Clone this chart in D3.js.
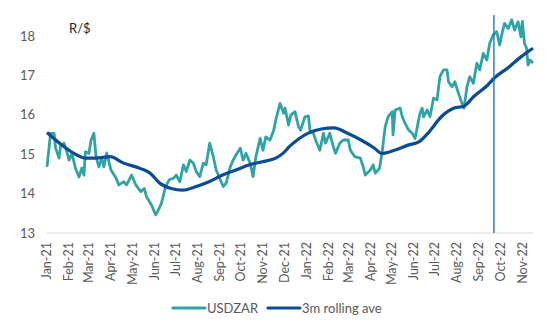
<!DOCTYPE html>
<html><head><meta charset="utf-8">
<script src="https://cdn.jsdelivr.net/npm/d3@7"></script>
<style>
html,body{margin:0;padding:0;background:#fff;}
svg{display:block;}
text{font-family:Lato,"Open Sans",sans-serif;}
</style></head>
<body>
<svg id="chart" width="550" height="330"></svg>
<script>
const usdDates = ["2021-01-01","2021-01-06","2021-01-11","2021-01-13","2021-01-18","2021-01-20","2021-01-25","2021-01-29","2021-02-01","2021-02-05","2021-02-10","2021-02-15","2021-02-19","2021-02-22","2021-02-24","2021-03-01","2021-03-04","2021-03-08","2021-03-11","2021-03-15","2021-03-19","2021-03-22","2021-03-26","2021-04-01","2021-04-08","2021-04-12","2021-04-19","2021-04-23","2021-04-30","2021-05-06","2021-05-13","2021-05-18","2021-05-21","2021-05-28","2021-06-03","2021-06-08","2021-06-11","2021-06-17","2021-06-22","2021-06-28","2021-07-02","2021-07-07","2021-07-12","2021-07-16","2021-07-21","2021-07-26","2021-07-30","2021-08-04","2021-08-09","2021-08-13","2021-08-18","2021-08-23","2021-08-27","2021-09-02","2021-09-06","2021-09-10","2021-09-16","2021-09-20","2021-09-24","2021-09-30","2021-10-04","2021-10-08","2021-10-14","2021-10-18","2021-10-22","2021-10-28","2021-11-01","2021-11-05","2021-11-11","2021-11-16","2021-11-19","2021-11-25","2021-11-30","2021-12-02","2021-12-07","2021-12-10","2021-12-16","2021-12-21","2021-12-24","2021-12-30","2022-01-04","2022-01-06","2022-01-11","2022-01-14","2022-01-20","2022-01-25","2022-01-28","2022-02-03","2022-02-08","2022-02-11","2022-02-17","2022-02-22","2022-03-01","2022-03-04","2022-03-10","2022-03-18","2022-03-22","2022-03-25","2022-04-01","2022-04-05","2022-04-08","2022-04-14","2022-04-18","2022-04-22","2022-04-26","2022-05-02","2022-05-03","2022-05-06","2022-05-13","2022-05-16","2022-05-20","2022-05-25","2022-05-30","2022-06-03","2022-06-08","2022-06-10","2022-06-13","2022-06-15","2022-06-20","2022-06-24","2022-06-29","2022-07-04","2022-07-08","2022-07-13","2022-07-18","2022-07-20","2022-07-25","2022-07-29","2022-08-03","2022-08-08","2022-08-11","2022-08-15","2022-08-19","2022-08-24","2022-08-29","2022-09-02","2022-09-07","2022-09-12","2022-09-16","2022-09-21","2022-09-26","2022-09-30","2022-10-04","2022-10-07","2022-10-12","2022-10-17","2022-10-21","2022-10-26","2022-10-30","2022-11-01","2022-11-04","2022-11-07","2022-11-09","2022-11-12","2022-11-16"];
const usdValues = [14.68,15.53,15.53,15.16,14.90,15.20,15.28,15.05,14.85,15.02,14.65,14.42,14.65,14.47,15.06,15.02,15.36,15.53,14.94,14.68,14.90,14.68,15.03,14.60,14.40,14.22,14.30,14.22,14.47,14.22,14.05,14.13,13.92,13.71,13.46,13.63,13.75,14.18,14.35,14.39,14.47,14.30,14.73,14.56,14.85,14.77,14.56,14.43,14.77,14.73,15.28,14.94,14.60,14.35,14.18,14.26,14.68,14.85,14.98,15.15,14.85,15.02,14.77,14.43,14.94,15.40,15.10,15.44,15.36,15.61,15.87,16.29,16.04,16.17,15.74,15.99,16.08,15.70,15.61,15.95,15.97,15.61,15.53,15.36,15.10,15.53,15.28,15.53,15.19,15.02,15.28,15.36,15.36,15.10,14.94,14.90,14.68,14.47,14.60,14.73,14.52,14.64,15.10,15.70,15.95,16.08,15.49,16.12,16.17,15.95,15.78,15.61,15.53,15.40,15.87,16.04,16.17,15.95,16.12,15.95,16.42,16.38,16.97,17.14,17.14,16.84,16.71,16.84,16.55,16.29,16.17,16.71,16.97,16.80,17.31,17.14,17.56,17.39,17.81,18.03,18.11,17.77,18.11,18.32,18.19,18.41,18.15,18.36,17.98,18.37,17.81,17.69,17.26,17.39,17.31];

const aveDates = ["2021-01-01","2021-01-25","2021-02-12","2021-02-23","2021-03-10","2021-03-31","2021-04-18","2021-05-12","2021-05-26","2021-06-09","2021-06-25","2021-07-11","2021-07-30","2021-08-17","2021-09-05","2021-09-24","2021-10-13","2021-10-31","2021-11-19","2021-11-29","2021-12-08","2021-12-22","2022-01-03","2022-01-22","2022-02-09","2022-02-28","2022-03-19","2022-04-07","2022-04-17","2022-05-05","2022-05-24","2022-06-09","2022-06-21","2022-07-10","2022-07-28","2022-08-11","2022-08-25","2022-09-13","2022-09-23","2022-10-11","2022-10-30","2022-11-16"];
const aveValues = [15.55,15.19,14.98,14.90,14.90,14.94,14.78,14.64,14.52,14.26,14.13,14.09,14.18,14.30,14.47,14.60,14.73,14.81,14.90,15.02,15.19,15.40,15.53,15.64,15.67,15.53,15.36,15.15,15.02,15.10,15.23,15.32,15.53,15.95,16.17,16.22,16.47,16.75,16.94,17.18,17.47,17.69];

const yTicks = [13,14,15,16,17,18];
const seriesNames = ["USDZAR","3m rolling ave"];
const markerDate = "2022-09-22";
const unitLabel = "R/$";

const parse = d3.timeParse("%Y-%m-%d");
const usd = usdDates.map((d,i)=>({date:parse(d), v:usdValues[i]}));
const ave = aveDates.map((d,i)=>({date:parse(d), v:aveValues[i]}));

const svg = d3.select("#chart");
const x = d3.scaleTime().domain([parse("2021-01-01"), parse("2022-11-16")]).range([47,533]);
const y = d3.scaleLinear().domain([13,18.5]).range([233,16.3]);

// y labels
svg.append("g").selectAll("text").data(yTicks).join("text")
  .attr("x",35).attr("y",d=>y(d)).attr("dy","0.35em")
  .attr("text-anchor","end").attr("font-size",13).attr("fill","#595959")
  .text(d=>d);

// baseline axis
svg.append("line").attr("x1",x.range()[0]).attr("x2",x.range()[1])
  .attr("y1",y(13)).attr("y2",y(13)).attr("stroke","#d9d9d9").attr("stroke-width",1);

// x labels
const months = d3.timeMonth.range(parse("2021-01-01"), parse("2022-11-16"));
const fmt = d3.timeFormat("%b-%y");
svg.append("g").selectAll("text").data(months).join("text")
  .attr("transform",d=>`translate(${x(d)},${y(13)+9}) rotate(-90)`)
  .attr("dy","0.35em").attr("text-anchor","end")
  .attr("font-size",12.5).attr("fill","#595959")
  .text(d=>fmt(d));

// unit label
svg.append("text").attr("x",69).attr("y",33).attr("font-size",13).attr("fill","#262626").text(unitLabel);

// lines
const line = d3.line().x(d=>x(d.date)).y(d=>y(d.v));
svg.append("path").datum(usd).attr("d",line.curve(d3.curveLinear))
  .attr("fill","none").attr("stroke","#30A3A6").attr("stroke-width",2.8).attr("stroke-linejoin","round");
svg.append("path").datum(ave).attr("d",d3.line().x(d=>x(d.date)).y(d=>y(d.v)).curve(d3.curveMonotoneX))
  .attr("fill","none").attr("stroke","#0B4C94").attr("stroke-width",3.2).attr("stroke-linejoin","round");

// vertical marker
svg.append("line").attr("x1",x(parse(markerDate))).attr("x2",x(parse(markerDate)))
  .attr("y1",15).attr("y2",y(13)).attr("stroke","#1F73C8").attr("stroke-width",1.4);

// legend
const legend = [{name:seriesNames[0], color:"#30A3A6", x:173},{name:seriesNames[1], color:"#0B4C94", x:268}];
const lg = svg.append("g").selectAll("g").data(legend).join("g");
lg.append("line").attr("x1",d=>d.x).attr("x2",d=>d.x+32).attr("y1",308).attr("y2",308)
  .attr("stroke",d=>d.color).attr("stroke-width",3.2).attr("stroke-linecap","round");
lg.append("text").attr("x",d=>d.x+34).attr("y",308).attr("dy","0.35em")
  .attr("font-size",13).attr("fill","#595959").text(d=>d.name);
</script>
</body></html>
